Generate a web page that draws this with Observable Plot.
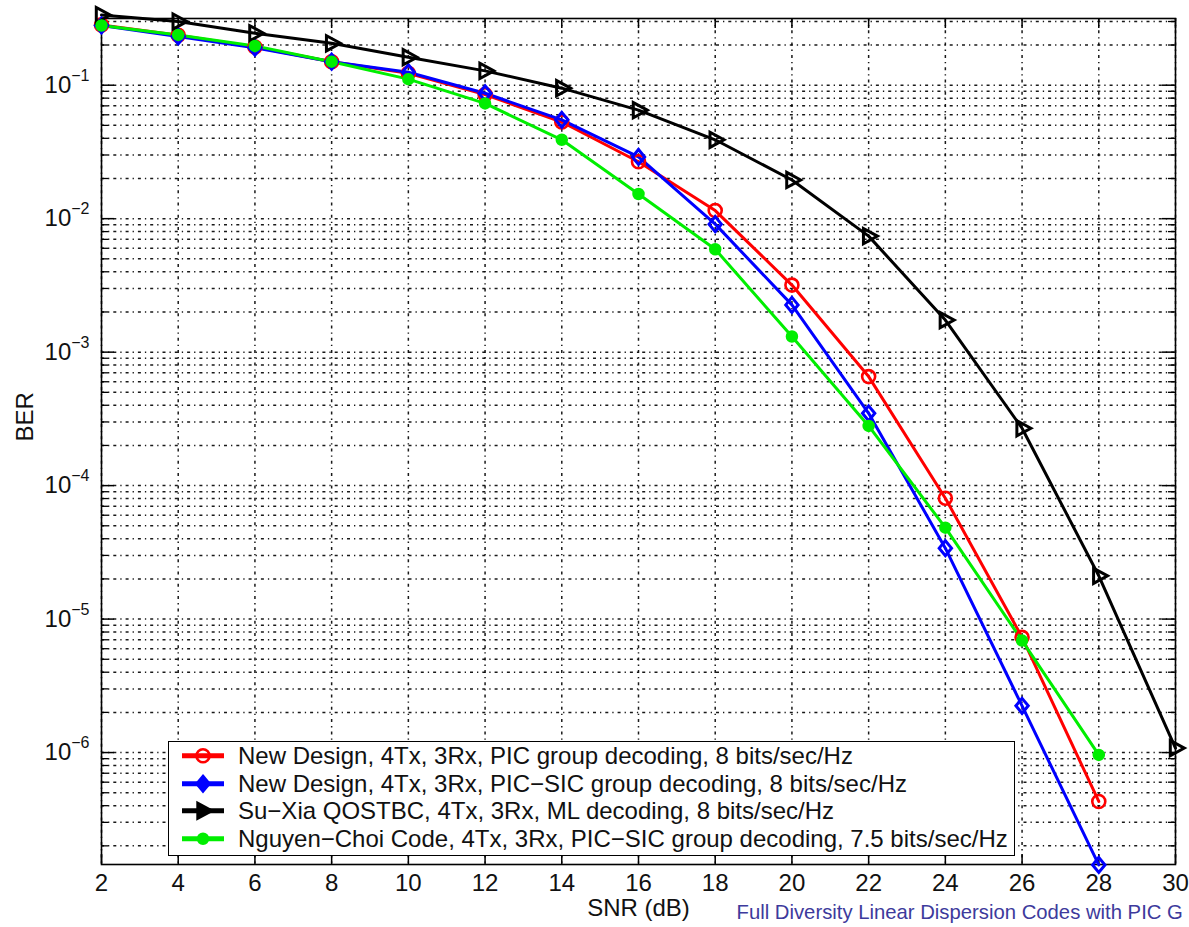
<!DOCTYPE html>
<html>
<head>
<meta charset="utf-8">
<script src="https://cdn.jsdelivr.net/npm/d3@7"></script>
<script src="https://cdn.jsdelivr.net/npm/@observablehq/plot@0.6"></script>
<style>
  body { margin: 0; background: #fff; font-family: "Liberation Sans", Arial, Helvetica, sans-serif; }
  #wrap { position: relative; width: 1189px; height: 927px; overflow: hidden; }
  #legend {
    position: absolute; left: 168px; top: 741px; width: 847px; height: 115px;
    box-sizing: border-box; border: 1.5px solid #000; background: #fff;
    font-size: 24px; color: #111;
  }
  #legend .row { display: flex; align-items: center; height: 27.5px; white-space: nowrap; }
  #legend .row svg { flex: none; }
  #legend .row span { margin-left: 14px; line-height: 27.5px; }
</style>
</head>
<body>
<div id="wrap"></div>
<script>
// SNR axis (dB)
const snrTicks = [2, 4, 6, 8, 10, 12, 14, 16, 18, 20, 22, 24, 26, 28, 30];
const snrPoints = [2, 4, 6, 8, 10, 12, 14, 16, 18, 20, 22, 24, 26, 28];
const snrPointsSuXia = [2, 4, 6, 8, 10, 12, 14, 16, 18, 20, 22, 24, 26, 28, 30];

// BER curves
const berNewPIC = [0.283, 0.237, 0.193, 0.150, 0.123, 0.085, 0.053, 0.0267, 0.0115, 0.00318, 6.56e-4, 8.05e-5, 7.3e-6, 4.3e-7];
const berNewPICSIC = [0.280, 0.232, 0.191, 0.150, 0.125, 0.087, 0.055, 0.029, 0.0091, 0.00226, 3.48e-4, 3.4e-5, 2.24e-6, 1.44e-7];
const berSuXia = [0.335, 0.300, 0.245, 0.206, 0.162, 0.128, 0.095, 0.065, 0.039, 0.0195, 0.0074, 0.00174, 2.69e-4, 2.11e-5, 1.08e-6];
const berNguyenChoi = [0.280, 0.238, 0.197, 0.150, 0.111, 0.073, 0.039, 0.0153, 0.0059, 0.00131, 2.8e-4, 4.84e-5, 6.9e-6, 9.6e-7];

// BER axis
const berTicks = [1e-1, 1e-2, 1e-3, 1e-4, 1e-5, 1e-6];
const berDomain = [1.45e-7, 0.316];

const seriesLabels = [
  "New Design, 4Tx, 3Rx, PIC group decoding, 8 bits/sec/Hz",
  "New Design, 4Tx, 3Rx, PIC\u2212SIC group decoding, 8 bits/sec/Hz",
  "Su\u2212Xia QOSTBC, 4Tx, 3Rx, ML decoding, 8 bits/sec/Hz",
  "Nguyen\u2212Choi Code, 4Tx, 3Rx, PIC\u2212SIC group decoding, 7.5 bits/sec/Hz"
];
const seriesColors = ["#ff0000", "#0000ff", "#000000", "#00ee00"];

// right-pointing triangle marker
const triangleRight = {
  draw(ctx, size) {
    const r = Math.sqrt(size / Math.PI);
    ctx.moveTo(r * 1.1, 0);
    ctx.lineTo(-r * 0.65, -r * 0.95);
    ctx.lineTo(-r * 0.65, r * 0.95);
    ctx.closePath();
  }
};
// slightly tall diamond marker
const diamondWide = {
  draw(ctx, size) {
    const r = Math.sqrt(size / Math.PI);
    ctx.moveTo(0, -r * 1.15);
    ctx.lineTo(r * 0.95, 0);
    ctx.lineTo(0, r * 1.15);
    ctx.lineTo(-r * 0.95, 0);
    ctx.closePath();
  }
};

const markerStyles = [
  {symbol: "circle", r: 6.5, fill: "none", strokeWidth: 2.6},
  {symbol: diamondWide, r: 6.5, fill: "none", strokeWidth: 3},
  {symbol: triangleRight, r: 8, fill: "none", strokeWidth: 3},
  {symbol: "circle", r: 5, fill: "fill", strokeWidth: 2.5}
];

const seriesData = [
  snrPoints.map((s, i) => ({snr: s, ber: berNewPIC[i]})),
  snrPoints.map((s, i) => ({snr: s, ber: berNewPICSIC[i]})),
  snrPointsSuXia.map((s, i) => ({snr: s, ber: berSuXia[i]})),
  snrPoints.map((s, i) => ({snr: s, ber: berNguyenChoi[i]}))
];

// minor log grid values within the axis range
const berGrid = [];
for (let e = -7; e <= -1; e++) {
  for (let k = 1; k <= 9; k++) {
    const v = k * Math.pow(10, e);
    if (v >= berDomain[0] && v <= berDomain[1]) berGrid.push(v);
  }
}
const berMinor = berGrid.filter(v => !berTicks.some(t => Math.abs(t - v) / t < 1e-9));

const W = 1189, H = 927;
const mL = 101, mR = 14, mT = 18, mB = 63;
const innerW = W - mL - mR, innerH = H - mT - mB;

const gridStyle = {stroke: "#000", strokeOpacity: 0.9, strokeWidth: 1.5, strokeDasharray: "3,4,1.3,4"};
const axisColor = "#000";

const seriesMarks = [];
seriesData.forEach((data, i) => {
  seriesMarks.push(Plot.line(data, {x: "snr", y: "ber", stroke: seriesColors[i], strokeWidth: 3}));
});
seriesData.forEach((data, i) => {
  const m = markerStyles[i];
  seriesMarks.push(Plot.dot(data, {
    x: "snr", y: "ber", symbol: () => m.symbol, r: m.r,
    stroke: seriesColors[i], strokeWidth: m.strokeWidth,
    fill: m.fill === "fill" ? seriesColors[i] : "none"
  }));
});

const chart = Plot.plot({
  width: W, height: H,
  marginLeft: mL, marginRight: mR, marginTop: mT, marginBottom: mB,
  style: {fontFamily: '"Liberation Sans", Arial, Helvetica, sans-serif', fontSize: "24px", color: "#111", background: "#fff", overflow: "visible"},
  symbol: {type: "identity"},
  x: {domain: [2, 30]},
  y: {type: "log", domain: berDomain},
  marks: [
    Plot.gridY(berGrid, gridStyle),
    Plot.gridX(snrTicks, gridStyle),
    // inward tick marks on all four sides
    Plot.tickX(snrTicks, {x: d => d, insetTop: innerH - 10, stroke: axisColor, strokeWidth: 1.5}),
    Plot.tickX(snrTicks, {x: d => d, insetBottom: innerH - 10, stroke: axisColor, strokeWidth: 1.5}),
    Plot.tickY(berTicks, {y: d => d, insetRight: innerW - 13, stroke: axisColor, strokeWidth: 1.5}),
    Plot.tickY(berTicks, {y: d => d, insetLeft: innerW - 13, stroke: axisColor, strokeWidth: 1.5}),
    Plot.tickY(berMinor, {y: d => d, insetRight: innerW - 7, stroke: axisColor, strokeWidth: 1.3}),
    Plot.tickY(berMinor, {y: d => d, insetLeft: innerW - 7, stroke: axisColor, strokeWidth: 1.3}),
    Plot.frame({stroke: axisColor, strokeWidth: 1.6}),
    Plot.axisX(snrTicks, {anchor: "bottom", tickSize: 0, tickPadding: 9, label: null, fontSize: 24}),
    Plot.axisY(berTicks, {anchor: "left", tickSize: 0, tickPadding: 12, label: null, fontSize: 24,
      tickFormat: d => "10^" + Math.round(Math.log10(d))}),
    ...seriesMarks,
    Plot.text(["SNR (dB)"], {text: d => d, frameAnchor: "bottom", dy: 51, fontSize: 24, fill: "#111"}),
    Plot.text(["BER"], {text: d => d, frameAnchor: "left", dx: -76, rotate: -90, fontSize: 24, fill: "#111"}),
    Plot.text(["Full Diversity Linear Dispersion Codes with PIC G"], {
      text: d => d, frameAnchor: "bottom", dx: 736 - (mL + innerW / 2), dy: 54,
      textAnchor: "start", fontSize: 20.3, fill: "#3d3a9c"
    })
  ]
});

// raise the exponents of the BER tick labels
chart.querySelectorAll("text").forEach(t => {
  const s = t.textContent;
  const m = /^10\^(-?\d+)$/.exec(s);
  if (!m) return;
  const exp = m[1].replace("-", "\u2212");
  t.textContent = "10";
  const sup = document.createElementNS("http://www.w3.org/2000/svg", "tspan");
  sup.setAttribute("dy", "-12");
  sup.setAttribute("font-size", "16");
  sup.textContent = exp;
  t.appendChild(sup);
});

const wrap = document.getElementById("wrap");
wrap.appendChild(chart);

// legend box
const legend = d3.select(wrap).append("div").attr("id", "legend");
seriesLabels.forEach((label, i) => {
  const row = legend.append("div").attr("class", "row");
  const sw = row.append("svg").attr("width", 55).attr("height", 27.5);
  sw.append("line").attr("x1", 13).attr("x2", 55).attr("y1", 13.75).attr("y2", 13.75)
    .attr("stroke", seriesColors[i]).attr("stroke-width", 5);
  const m = markerStyles[i];
  const type = m.symbol === "circle" ? d3.symbolCircle : m.symbol;
  sw.append("path")
    .attr("transform", "translate(34,13.75)")
    .attr("d", d3.symbol().type(type).size(Math.PI * m.r * m.r)())
    .attr("fill", i === 0 ? "none" : seriesColors[i])
    .attr("stroke", seriesColors[i])
    .attr("stroke-width", m.strokeWidth);
  row.append("span").text(label);
});
</script>
</body>
</html>
